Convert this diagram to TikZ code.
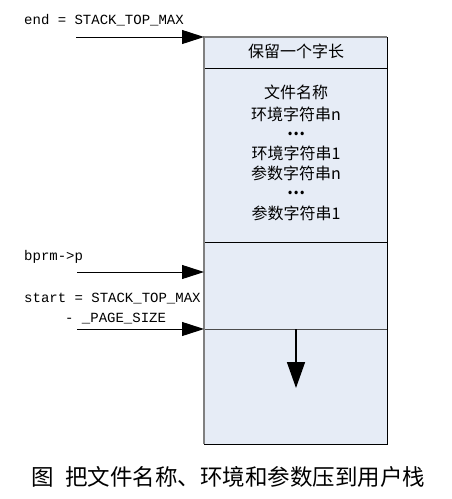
\documentclass[tikz,border=0pt]{standalone}
\usepackage{fontspec}
\newfontfamily\cjk{Noto Sans CJK SC}
\newfontfamily\monof{Liberation Mono}
\usetikzlibrary{arrows.meta}
\begin{document}
\begin{tikzpicture}[x=1pt,y=-1pt,
  lbl/.style={font=\monof\fontsize{14}{16}\selectfont, anchor=west, inner sep=0pt},
  boxtxt/.style={font=\cjk\fontsize{16}{18}\selectfont, inner sep=0pt, text height=12pt, text depth=2pt},
  dotstxt/.style={font=\cjk\fontsize{16}{18}\selectfont, inner sep=0pt, text height=5pt, text depth=0pt},
  ptr/.style={-{Triangle[length=22pt,width=14pt]}, line width=1pt},
  growarrow/.style={-{Triangle[length=26pt,width=18pt]}, line width=1.6pt}]
\definecolor{boxfill}{HTML}{E6ECF6}
\useasboundingbox (0,0) rectangle (452,499);
% box parts
\fill[boxfill] (204,37) rectangle (387,444);
\coordinate (tl) at (204,37);
\coordinate (tr) at (387,37);
\coordinate (bl) at (204,444);
\coordinate (br) at (387,444);
\coordinate (d1l) at (204,68);
\coordinate (d1r) at (387,68);
\coordinate (d2l) at (204,242);
\coordinate (d2r) at (387,242);
\coordinate (d3l) at (204,329);
\coordinate (d3r) at (387,329);
\draw[line width=1pt] (tr) -- (br) -- (bl);
\draw[line width=1pt] (d1l) -- (d1r);
\draw[line width=1pt] (d2l) -- (d2r);
\draw[line width=1pt, black!70] (d3l) -- (d3r);
\draw[line width=1.8pt, gray] (bl) -- (tl) -- (tr);
% box texts
\node[boxtxt] (r0) at (296,52) {保留一个字长};
\node[boxtxt] (t1) at (296,93) {文件名称};
\node[boxtxt] (t2) at (296,115) {环境字符串n};
\node[dotstxt] (t3) at (296,133) {\textbf{…}};
\node[boxtxt] (t4) at (296,154) {环境字符串1};
\node[boxtxt] (t5) at (296,174) {参数字符串n};
\node[dotstxt] (t6) at (296,192) {\textbf{…}};
\node[boxtxt] (t7) at (296,214) {参数字符串1};
% labels
\node[lbl] (lend) at (24,20) {end = STACK\_TOP\_MAX};
\node[lbl] (lbprm) at (24,257) {bprm->p};
\node[lbl] (lstart) at (24,299) {start = STACK\_TOP\_MAX};
\node[lbl] (lpage) at (65,319) {- \_PAGE\_SIZE};
% pointer arrows
\coordinate (a1) at (76,37);
\coordinate (a2) at (77,272);
\coordinate (a3) at (77,329);
\coordinate (b2) at (204,272);
\draw[ptr] (a1) -- (tl);
\draw[ptr] (a2) -- (b2);
\draw[ptr] (a3) -- (d3l);
% growth arrow
\coordinate (g0) at (296,329);
\coordinate (g1) at (296,388);
\draw[growarrow] (g0) -- (g1);
% caption
\node[font=\cjk\fontsize{22.5}{26}\selectfont, inner sep=0pt] (cap) at (228.5,477) {图\hspace{11pt}把文件名称、环境和参数压到用户栈};
\end{tikzpicture}
\end{document}
